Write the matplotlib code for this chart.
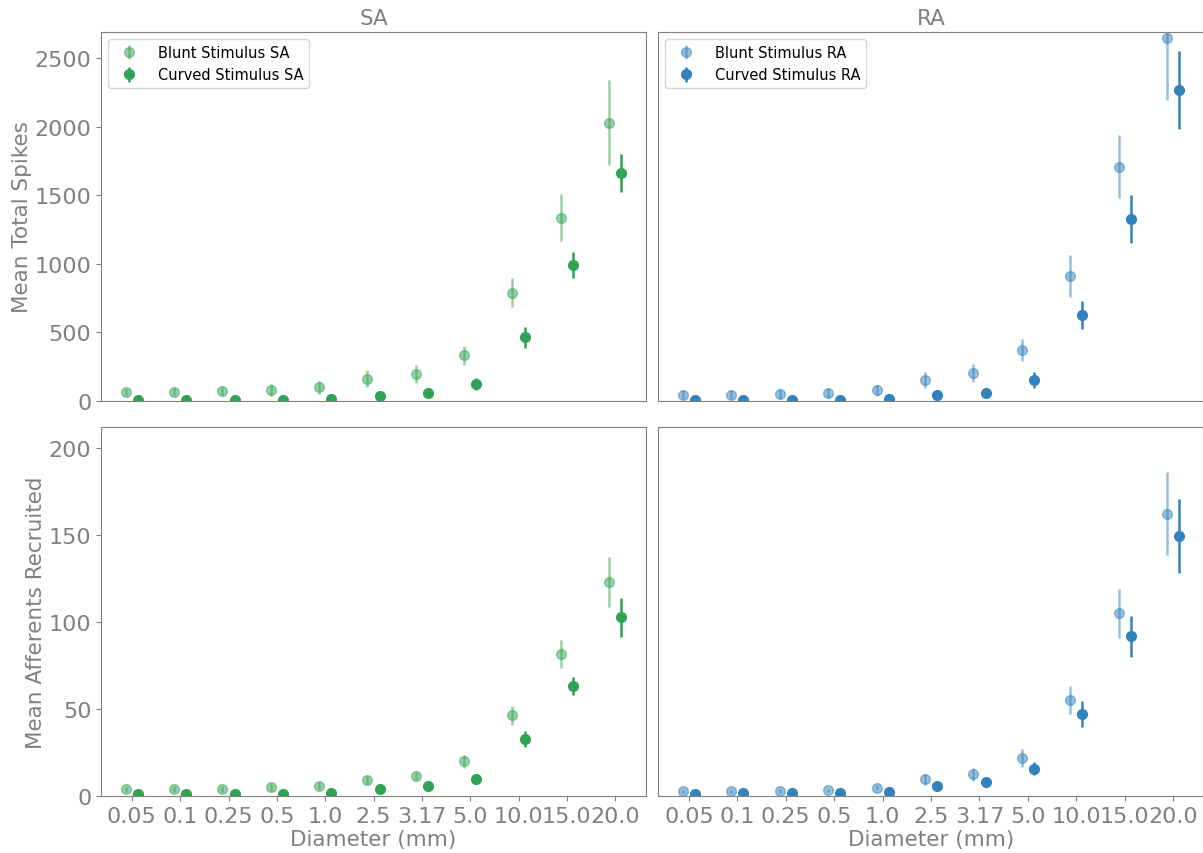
import numpy as np
import matplotlib.pyplot as plt

# Stimulus diameters (mm), shown as categories
diameters = ['0.05', '0.1', '0.25', '0.5', '1.0', '2.5', '3.17', '5.0', '10.0', '15.0', '20.0']

# Mean total spikes +/- error
spikes_blunt_sa = [66, 66, 73, 80, 100, 163, 197, 333, 789, 1338, 2030]
spikes_blunt_sa_err = [24, 26, 30, 41, 48, 60, 63, 68, 105, 170, 310]
spikes_curved_sa = [7, 5, 7, 7, 17, 36, 56, 124, 464, 991, 1663]
spikes_curved_sa_err = [3, 3, 3, 4, 6, 12, 18, 47, 78, 96, 138]

spikes_blunt_ra = [46, 46, 51, 58, 78, 155, 204, 374, 913, 1709, 2650]
spikes_blunt_ra_err = [32, 35, 35, 36, 39, 60, 69, 80, 152, 231, 452]
spikes_curved_ra = [5, 5, 7, 10, 15, 41, 61, 153, 626, 1326, 2270]
spikes_curved_ra_err = [3, 3, 3, 4, 6, 15, 28, 58, 103, 174, 285]

# Mean afferents recruited +/- error
aff_blunt_sa = [3.8, 4.0, 4.2, 5.0, 5.7, 9.4, 11.7, 19.9, 46.4, 81.8, 123.2]
aff_blunt_sa_err = [1.5, 1.5, 1.7, 2.0, 2.5, 2.3, 2.3, 3.8, 5.4, 8.0, 14.4]
aff_curved_sa = [1.1, 1.1, 1.1, 1.3, 1.7, 3.8, 5.6, 10.0, 32.8, 63.0, 102.7]
aff_curved_sa_err = [0.4, 0.4, 0.4, 0.5, 0.6, 0.8, 1.0, 1.9, 4.4, 5.2, 11.1]

aff_blunt_ra = [2.7, 2.7, 2.9, 3.3, 4.8, 9.6, 12.5, 21.8, 55.0, 105.0, 162.3]
aff_blunt_ra_err = [1.0, 1.0, 1.0, 1.0, 1.5, 3.0, 3.6, 5.4, 8.0, 14.0, 24.1]
aff_curved_ra = [1.3, 1.5, 1.5, 1.9, 2.3, 5.7, 8.0, 15.7, 47.1, 91.8, 149.4]
aff_curved_ra_err = [0.4, 0.4, 0.4, 0.5, 0.6, 1.0, 2.5, 3.8, 7.6, 11.7, 21.4]

sa_color = '#31a354'
ra_color = '#3182bd'
grey = '#808080'

plt.rcParams['font.family'] = 'DejaVu Sans'

fig = plt.figure(figsize=(12.03, 8.54), dpi=100)
ax_tl = fig.add_axes([0.0840, 0.5293, 0.4530, 0.4321])
ax_tr = fig.add_axes([0.5470, 0.5293, 0.4539, 0.4321], sharey=ax_tl, sharex=ax_tl)
ax_bl = fig.add_axes([0.0840, 0.0667, 0.4530, 0.4321], sharex=ax_tl)
ax_br = fig.add_axes([0.5470, 0.0667, 0.4539, 0.4321], sharey=ax_bl, sharex=ax_tl)

x = np.arange(len(diameters))
offset = 0.125


def draw_pair(ax, blunt, blunt_err, curved, curved_err, color, tag, legend=False):
    ax.errorbar(x - offset, blunt, yerr=blunt_err, fmt='o', color=color, alpha=0.5,
                ms=7, elinewidth=1.8, capsize=0, label=f'Blunt Stimulus {tag}')
    ax.errorbar(x + offset, curved, yerr=curved_err, fmt='o', color=color,
                ms=7, elinewidth=1.8, capsize=0, label=f'Curved Stimulus {tag}')
    if legend:
        ax.legend(loc='upper left', fontsize=10.5, handletextpad=1.0)


draw_pair(ax_tl, spikes_blunt_sa, spikes_blunt_sa_err, spikes_curved_sa, spikes_curved_sa_err,
          sa_color, 'SA', legend=True)
draw_pair(ax_tr, spikes_blunt_ra, spikes_blunt_ra_err, spikes_curved_ra, spikes_curved_ra_err,
          ra_color, 'RA', legend=True)
draw_pair(ax_bl, aff_blunt_sa, aff_blunt_sa_err, aff_curved_sa, aff_curved_sa_err, sa_color, 'SA')
draw_pair(ax_br, aff_blunt_ra, aff_blunt_ra_err, aff_curved_ra, aff_curved_ra_err, ra_color, 'RA')

ax_tl.set_ylim(0, 2693)
ax_bl.set_ylim(0, 212)
ax_tl.set_xticks(x)
ax_tl.set_xticklabels(diameters)

ax_tl.set_title('SA', fontsize=15.5, color=grey)
ax_tr.set_title('RA', fontsize=15.5, color=grey)
ax_tl.set_ylabel('Mean Total Spikes', fontsize=15.5, color=grey, labelpad=2)
ax_bl.set_ylabel('Mean Afferents Recruited', fontsize=15.5, color=grey, labelpad=2)
ax_bl.set_xlabel('Diameter (mm)', fontsize=15.5, color=grey, labelpad=2)
ax_br.set_xlabel('Diameter (mm)', fontsize=15.5, color=grey, labelpad=2)

for ax in [ax_tl, ax_tr, ax_bl, ax_br]:
    for spine in ax.spines.values():
        spine.set_color(grey)
    ax.tick_params(labelsize=16, colors=grey)

# hide the shared tick labels and marks
ax_tl.tick_params(bottom=False, labelbottom=False)
ax_tr.tick_params(bottom=False, labelbottom=False, left=False, labelleft=False)
ax_br.tick_params(left=False, labelleft=False)

fig.savefig('out.png', dpi=100)
